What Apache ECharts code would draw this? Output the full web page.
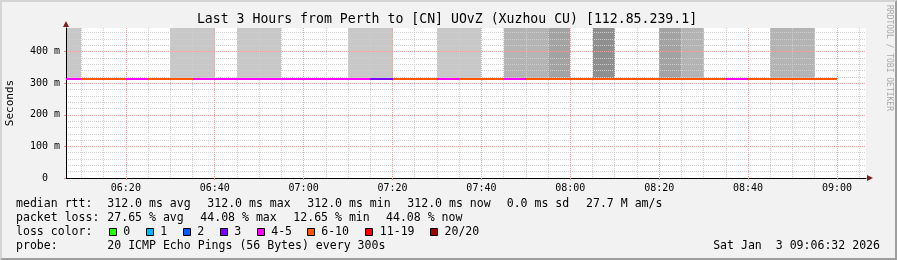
<!DOCTYPE html>
<html><head><meta charset="utf-8">
<script src="https://cdn.jsdelivr.net/npm/echarts@6/dist/echarts.min.js"></script>
<style>
html,body{margin:0;padding:0;background:#f2f2f2;}
#wrap{position:relative;width:897px;height:260px;}
#chart{position:absolute;left:0;top:0;width:897px;height:260px;}
#frame{position:absolute;left:0;top:0;width:897px;height:260px;box-sizing:border-box;border-style:solid;border-width:2px;border-color:#d4d4d4 #9e9e9e #9e9e9e #d4d4d4;pointer-events:none;}
</style></head><body>
<div id="wrap"><div id="chart"></div><div id="frame"></div></div>
<script>
// ---- data ----
const titleText = 'Last 3 Hours from Perth to [CN] UOvZ (Xuzhou CU) [112.85.239.1]';
const viewStart = '06:06:32';
const viewEnd = '09:06:32';
const slotMinutes = 5;
const slotStart = ['06:05','06:10','06:15','06:20','06:25','06:30','06:35','06:40','06:45','06:50',
  '06:55','07:00','07:05','07:10','07:15','07:20','07:25','07:30','07:35','07:40',
  '07:45','07:50','07:55','08:00','08:05','08:10','08:15','08:20','08:25','08:30',
  '08:35','08:40','08:45','08:50','08:55'];
const medianRtt = [312,312,312,312,312,312,312,312,312,312,
  312,312,312,312,312,312,312,312,312,312,
  312,312,312,312,312,312,312,312,312,312,
  312,312,312,312,312];
const lossBucket = ['4-5','6-10','6-10','4-5','6-10','6-10','4-5','4-5','4-5','4-5',
  '4-5','4-5','4-5','4-5','3','6-10','6-10','4-5','6-10','6-10',
  '4-5','6-10','6-10','6-10','6-10','6-10','6-10','6-10','6-10','6-10',
  '4-5','6-10','6-10','6-10','6-10'];
// smoke density: 0 none, 1 light .. 4 dark
const smokeLevel = [1,0,0,0,0,1,1,0,1,1,
  0,0,0,1,1,0,0,1,1,0,
  2,2,3,0,4,0,0,3,2,0,
  0,0,2,2,0];
const smokeTop = [520,0,0,0,0,520,520,0,520,520,
  0,0,0,520,520,0,0,520,520,0,
  520,520,520,0,520,0,0,520,520,0,
  0,0,520,520,0];
const xTickLabels = ['06:20','06:40','07:00','07:20','07:40','08:00','08:20','08:40','09:00'];
const yTickValues = [0,100,200,300,400];
const yMax = 475;
const lossLabels = ['0','1','2','3','4-5','6-10','11-19','20/20'];
const lossColors = ['#26ff00','#00b8ff','#0059ff','#7e00ff','#ff00ff','#ff5500','#ff0000','#a10000'];
const smokeColors = [null,'#c8c8c8','#b4b4b4','#a3a3a3','#8f8f8f'];
const rttStats = ['312.0 ms avg','312.0 ms max','312.0 ms min','312.0 ms now','0.0 ms sd','27.7 M am/s'];
const lossStats = ['27.65 % avg','44.08 % max','12.65 % min','44.08 % now'];
const probeText = '20 ICMP Echo Pings (56 Bytes) every 300s';
const stampText = 'Sat Jan  3 09:06:32 2026';
const unitText = 'Seconds';
const watermark = 'RRDTOOL / TOBI OETIKER';

// ---- build ----
function toMin(s){const p=s.split(':').map(Number);return p[0]*60+p[1]+(p[2]||0)/60;}
function fmtMin(v){const h=Math.floor(v/60),m=Math.round(v-h*60);return String(h).padStart(2,'0')+':'+String(m).padStart(2,'0');}
const xMin = toMin(viewStart), xMax = toMin(viewEnd);
const majorX = xTickLabels.map(toMin);
const minorX = [];
for (let t = Math.ceil(xMin/5)*5; t <= xMax; t += 5) if (majorX.indexOf(t) < 0) minorX.push(t);
const minorY = [];
for (let v = 20; v < yMax; v += 20) if (v % 100 !== 0) minorY.push(v);

const smokeData = [], lineData = [];
slotStart.forEach((s, i) => {
  const t0 = toMin(s), t1 = t0 + slotMinutes;
  if (smokeLevel[i] > 0) smokeData.push([t0, t1, medianRtt[i], smokeTop[i], smokeLevel[i]]);
  lineData.push([t0, t1, medianRtt[i], lossLabels.indexOf(lossBucket[i])]);
});

const MONO = "'DejaVu Sans Mono', monospace";
const LEG = '11.55px ' + MONO;
const chart = echarts.init(document.getElementById('chart'), null, {renderer:'canvas'});

function clipX(x, cs){return Math.max(cs.x, Math.min(cs.x + cs.width, x));}

const gfx = [];
function txt(x, y, text, opt){
  gfx.push(Object.assign({type:'text', x:x, y:y, silent:true,
    style:Object.assign({text:text, font:LEG, fill:'#000', align:'left', verticalAlign:'middle'}, (opt&&opt.style)||{})},
    opt && opt.rotation != null ? {rotation: opt.rotation} : {}));
}
txt(447, 19.5, titleText, {style:{font:'13.2px ' + MONO, align:'center'}});
txt(10.5, 103, unitText, {rotation: Math.PI/2, style:{font:'11px ' + MONO, align:'center'}});
txt(889, 58, watermark, {rotation: -Math.PI/2, style:{font:'8px ' + MONO, align:'center', fill:'#a8a8a8'}});
const row = [204.2, 218.2, 232.2, 246];
txt(16, row[0], 'median rtt:');
[107.3, 207.3, 307.3, 407.3, 506.7, 586].forEach((x, i) => txt(x, row[0], rttStats[i]));
txt(16, row[1], 'packet loss:');
[107.3, 200.3, 293.3, 386].forEach((x, i) => txt(x, row[1], lossStats[i]));
txt(16, row[2], 'loss color:');
[108.7, 145.7, 182.7, 219.7, 256.7, 306.7, 365.3, 430].forEach((x, i) => {
  gfx.push({type:'rect', silent:true, shape:{x:Math.round(x)+0.5, y:228.5, width:7, height:7},
    style:{fill:lossColors[i], stroke:'#000', lineWidth:1}});
  txt(x + 14.5, row[2], lossLabels[i]);
});
txt(16, row[3], 'probe:');
txt(107.3, row[3], probeText);
txt(880, row[3], stampText, {style:{align:'right'}});

const majorLine = {color:'#eca0a0', width:1, type:[1,1]};
const minorLine = {color:'#cfcfcf', width:1, type:[1,1]};

chart.setOption({
  animation:false,
  backgroundColor:'#f2f2f2',
  grid:{left:66, top:28, width:800, height:150, show:true, backgroundColor:'#ffffff', borderWidth:0},
  xAxis:[
    {type:'value', min:xMin, max:xMax, position:'bottom', z:3,
      axisLine:{show:true, onZero:false, lineStyle:{color:'#000', width:1}},
      axisTick:{show:true, customValues:majorX, length:2, lineStyle:{color:'#e08a8a'}},
      axisLabel:{show:true, customValues:majorX, formatter:v=>fmtMin(v), fontFamily:MONO, fontSize:10, color:'#000', margin:5},
      splitLine:{show:true, lineStyle:majorLine}},
    {type:'value', min:xMin, max:xMax, position:'bottom', z:2,
      axisLine:{show:true, onZero:false, symbol:['none','triangle'], symbolSize:[6,6], symbolOffset:[0,4], lineStyle:{color:'#801f1f', width:0}},
      axisTick:{show:false, customValues:minorX},
      axisLabel:{show:false},
      splitLine:{show:true, lineStyle:minorLine}}
  ],
  yAxis:[
    {type:'value', min:0, max:yMax, position:'left', z:3,
      axisLine:{show:true, onZero:false, lineStyle:{color:'#000', width:1}},
      axisTick:{show:true, customValues:yTickValues, length:2, lineStyle:{color:'#e08a8a'}},
      axisLabel:{show:true, customValues:yTickValues, formatter:v=>v===0?'0  ':(v+' m'), fontFamily:MONO, fontSize:10, color:'#000', margin:6},
      splitLine:{show:true, lineStyle:majorLine}},
    {type:'value', min:0, max:yMax, position:'left', z:2,
      axisLine:{show:true, onZero:false, symbol:['none','triangle'], symbolSize:[6,6], symbolOffset:[0,4], lineStyle:{color:'#801f1f', width:0}},
      axisTick:{show:false, customValues:minorY},
      axisLabel:{show:false},
      splitLine:{show:true, lineStyle:minorLine}}
  ],
  series:[
    {type:'custom', name:'smoke', z:1, xAxisIndex:0, yAxisIndex:0, data:smokeData, clip:true,
      renderItem:function(params, api){
        const cs = params.coordSys;
        const pa = api.coord([api.value(0), api.value(3)]);
        const pb = api.coord([api.value(1), api.value(2)]);
        const x0 = Math.round(clipX(pa[0], cs)), x1 = Math.round(clipX(pb[0], cs));
        const y0 = Math.max(cs.y, pa[1]), y1 = pb[1];
        return {type:'rect', shape:{x:x0, y:y0, width:x1-x0, height:y1-y0},
          style:{fill:smokeColors[api.value(4)]}};
      }},
    {type:'custom', name:'median', z:5, xAxisIndex:0, yAxisIndex:0, data:lineData, clip:true,
      renderItem:function(params, api){
        const cs = params.coordSys;
        const pa = api.coord([api.value(0), api.value(2)]);
        const pb = api.coord([api.value(1), api.value(2)]);
        const x0 = Math.round(clipX(pa[0], cs)), x1 = Math.round(clipX(pb[0], cs));
        const yc = Math.round(pa[1]);
        return {type:'rect', shape:{x:x0, y:yc-1, width:x1-x0, height:2},
          style:{fill:lossColors[api.value(3)]}};
      }}
  ],
  graphic:gfx
});
</script></body></html>
